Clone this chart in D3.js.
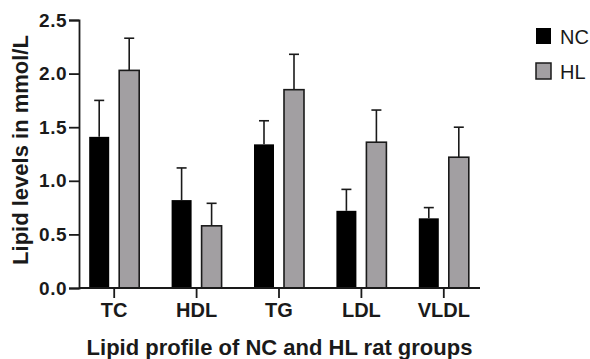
<!DOCTYPE html>
<html>
<head>
<meta charset="utf-8">
<script src="https://cdn.jsdelivr.net/npm/d3@7"></script>
<style>
  body { margin: 0; background: #fff; }
  svg { display: block; font-family: "Liberation Sans", Arial, sans-serif; }
</style>
</head>
<body>
<svg id="chart" width="590" height="359"></svg>
<script>
// categories + group names
const lipids = ["TC", "HDL", "TG", "LDL", "VLDL"];
const groups = ["NC", "HL"];

// means and SD
const ncMean = [1.41, 0.82, 1.34, 0.72, 0.65];
const ncSd   = [0.34, 0.30, 0.22, 0.20, 0.10];
const hlMean = [2.03, 0.58, 1.85, 1.36, 1.22];
const hlSd   = [0.30, 0.21, 0.33, 0.30, 0.28];

const yTicks = [0, 0.5, 1.0, 1.5, 2.0, 2.5];

const colors = { NC: "#000000", HL: "#a29fa2" };

const data = lipids.map((name, i) => ({
    name: name,
    values: [
        { group: "NC", mean: ncMean[i], sd: ncSd[i] },
        { group: "HL", mean: hlMean[i], sd: hlSd[i] }
    ]
}));

const svg = d3.select("#chart");

// plot area (window.top is taken, so prefix)
const plotLeft = 79, plotRight = 480, plotTop = 20, plotBottom = 288;

const x = d3.scaleBand()
    .domain(lipids)
    .range([73, 485])
    .padding(0);

const x1 = d3.scaleBand()
    .domain(groups)
    .range([0, x.bandwidth()])
    .paddingInner(1 / 3)
    .paddingOuter(0.54);

const y = d3.scaleLinear()
    .domain([0, 2.5])
    .range([plotBottom, plotTop]);

// bars
const cat = svg.append("g")
    .selectAll("g")
    .data(data)
    .join("g")
    .attr("transform", d => `translate(${x(d.name)},0)`);

cat.selectAll("rect")
    .data(d => d.values)
    .join("rect")
    .attr("x", d => x1(d.group))
    .attr("y", d => y(d.mean))
    .attr("width", x1.bandwidth())
    .attr("height", d => y(0) - y(d.mean))
    .attr("fill", d => colors[d.group])
    .attr("stroke", d => d.group == "HL" ? "#1a1a1a" : "none")
    .attr("stroke-width", 1.6);

// error bars (upper only)
const err = cat.selectAll("g.err")
    .data(d => d.values)
    .join("g")
    .attr("class", "err")
    .attr("stroke", "#1a1a1a")
    .attr("stroke-width", 1.6);

err.append("line")
    .attr("x1", d => x1(d.group) + x1.bandwidth() / 2)
    .attr("x2", d => x1(d.group) + x1.bandwidth() / 2)
    .attr("y1", d => y(d.mean))
    .attr("y2", d => y(d.mean + d.sd));

err.append("line")
    .attr("x1", d => x1(d.group) + x1.bandwidth() / 4)
    .attr("x2", d => x1(d.group) + x1.bandwidth() * 3 / 4)
    .attr("y1", d => y(d.mean + d.sd))
    .attr("y2", d => y(d.mean + d.sd));

// y axis
const yAxis = svg.append("g")
    .attr("transform", `translate(${plotLeft},0)`)
    .call(d3.axisLeft(y).tickValues(yTicks).tickFormat(d3.format(".1f")).tickSize(10).tickPadding(2));

// x axis
const xAxis = svg.append("g")
    .attr("transform", `translate(0,${plotBottom})`)
    .call(d3.axisBottom(x).tickSize(10).tickPadding(5));

xAxis.select(".domain").attr("d", `M${plotLeft},0H${plotRight}`);

svg.selectAll(".domain, .tick line")
    .attr("stroke", "#1a1a1a")
    .attr("stroke-width", 1.8);

yAxis.selectAll("text")
    .attr("font-size", 19)
    .attr("font-weight", "bold")
    .attr("letter-spacing", 0.5)
    .attr("fill", "#1a1a1a");

xAxis.selectAll("text")
    .attr("font-size", 20)
    .attr("font-weight", "bold")
    .attr("fill", "#1a1a1a");

// axis titles
svg.append("text")
    .attr("transform", `translate(28,${(plotTop + plotBottom) / 2 - 4}) rotate(-90)`)
    .attr("text-anchor", "middle")
    .attr("font-size", 22)
    .attr("font-weight", "bold")
    .attr("fill", "#1a1a1a")
    .text("Lipid levels in mmol/L");

svg.append("text")
    .attr("x", (plotLeft + plotRight) / 2)
    .attr("y", 355)
    .attr("text-anchor", "middle")
    .attr("font-size", 22)
    .attr("font-weight", "bold")
    .attr("fill", "#1a1a1a")
    .text("Lipid profile of NC and HL rat groups");

// legend
const legend = svg.append("g")
    .attr("transform", "translate(536,28)")
    .selectAll("g")
    .data(groups)
    .join("g")
    .attr("transform", (d, i) => `translate(0,${i * 35})`);

legend.append("rect")
    .attr("width", 15)
    .attr("height", 16)
    .attr("fill", d => colors[d])
    .attr("stroke", "#1a1a1a")
    .attr("stroke-width", d => d == "HL" ? 1.5 : 0);

legend.append("text")
    .attr("x", 24)
    .attr("y", 16)
    .attr("font-size", 20)
    .attr("fill", "#1a1a1a")
    .text(d => d);
</script>
</body>
</html>
